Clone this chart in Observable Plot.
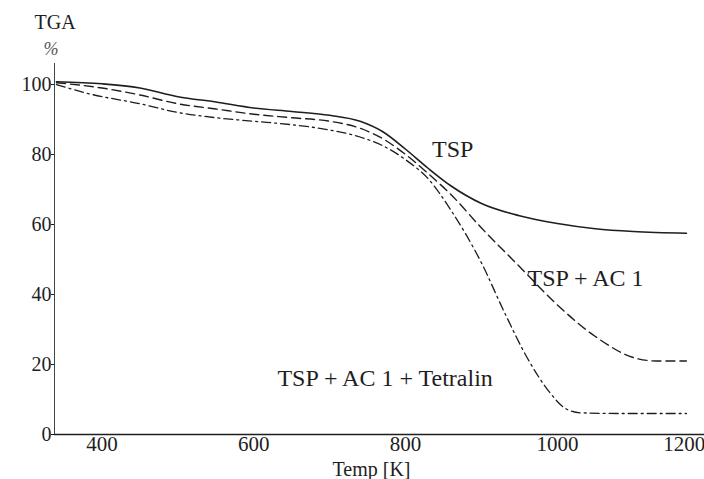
<!DOCTYPE html>
<html>
<head>
<meta charset="utf-8">
<script src="https://cdn.jsdelivr.net/npm/d3@7"></script>
<script src="https://cdn.jsdelivr.net/npm/@observablehq/plot@0.6"></script>
<style>
  html, body { margin: 0; padding: 0; background: #fff; }
  #chart svg { display: block; }
</style>
</head>
<body>
<div id="chart"></div>
<script>
// Temperature [K]
const tspTemp = [340, 400, 450, 500, 550, 600, 650, 700, 740, 770, 800, 830, 860, 900, 950, 1000, 1050, 1100, 1170];
const tspMass = [100.8, 100.2, 99, 96.5, 95, 93.3, 92.3, 91.2, 89.5, 86.5, 81.5, 76, 71, 66, 62.5, 60.3, 58.8, 58, 57.5];

const ac1Temp = [340, 400, 450, 500, 550, 600, 650, 700, 740, 770, 800, 830, 860, 900, 950, 1000, 1050, 1100, 1130, 1170];
const ac1Mass = [100.5, 99, 97, 94.5, 93, 91.5, 90.5, 89.5, 87.5, 84.5, 80, 74.5, 68.5, 59, 48, 37, 28, 22, 21, 21];

const tetTemp = [340, 380, 450, 500, 550, 600, 650, 700, 740, 770, 800, 830, 860, 900, 930, 960, 990, 1010, 1030, 1080, 1170];
const tetMass = [100, 97.5, 94.5, 92, 90.5, 89.5, 88.5, 87, 85, 82.5, 78.5, 73, 64, 49, 35, 22, 12, 7.5, 6.2, 6, 6];

const xTicks = [400, 600, 800, 1000];
const xEdgeTick = [1200];
const yTicks = [0, 20, 40, 60, 80, 100];

const seriesLabels = [
  {label: "TSP", x: 862, y: 81.5},
  {label: "TSP + AC 1", x: 1037, y: 44.5},
  {label: "TSP + AC 1 + Tetralin", x: 773, y: 16}
];

const toRows = (t, m) => t.map((d, i) => ({t: d, m: m[i]}));
const tsp = toRows(tspTemp, tspMass);
const ac1 = toRows(ac1Temp, ac1Mass);
const tet = toRows(tetTemp, tetMass);

const font = "Liberation Serif";
const ink = "#1e1e1e";
const fmt = d3.format("d");

const chart = Plot.plot({
  width: 704,
  height: 479,
  marginLeft: 54,
  marginRight: 0,
  marginTop: 84,
  marginBottom: 45,
  style: {fontFamily: font, background: "#fff", color: ink, overflow: "visible"},
  x: {domain: [337.4, 1200], range: [54, 708.7]},
  y: {domain: [0, 100], range: [434, 84]},
  marks: [
    Plot.ruleY([0], {x1: 337.4, x2: 1200, stroke: ink, strokeWidth: 1.3}),
    Plot.ruleX([337.4], {y1: 0, y2: 106, stroke: "#444", strokeWidth: 1}),
    Plot.axisX({ticks: xTicks, tickFormat: fmt, tickSize: 0, tickPadding: 2, fontSize: 21, fontFamily: font, label: null, fill: ink}),
    Plot.axisX({ticks: xEdgeTick, tickFormat: fmt, tickSize: 0, tickPadding: 2, fontSize: 21, fontFamily: font, label: null, textAnchor: "end", dx: -4, fill: ink}),
    Plot.axisY({ticks: yTicks, tickFormat: fmt, tickSize: 3, tickPadding: 0, fontSize: 20, fontFamily: font, label: null, fill: ink}),
    Plot.line(tsp, {x: "t", y: "m", stroke: ink, strokeWidth: 1.6, curve: "monotone-x"}),
    Plot.line(ac1, {x: "t", y: "m", stroke: ink, strokeWidth: 1.4, strokeDasharray: "9,5", curve: "monotone-x"}),
    Plot.line(tet, {x: "t", y: "m", stroke: ink, strokeWidth: 1.3, strokeDasharray: "9,4,2,4", curve: "monotone-x"}),
    Plot.text(seriesLabels, {x: "x", y: "y", text: "label", fontSize: 24, fontFamily: font, fill: ink}),
    Plot.text(["TGA"], {frameAnchor: "top-left", lineAnchor: "middle", dx: -20, dy: -62, fontSize: 20, fontFamily: font, fill: ink}),
    Plot.text(["%"], {frameAnchor: "top-left", lineAnchor: "middle", dx: -11, dy: -35, fontSize: 18, fontFamily: font, fontStyle: "italic", fill: "#555"}),
    Plot.text(["Temp [K]"], {frameAnchor: "bottom", lineAnchor: "middle", dx: -8, dy: 35, fontSize: 20, fontFamily: font, fill: ink})
  ]
});
document.getElementById("chart").appendChild(chart);
</script>
</body>
</html>
